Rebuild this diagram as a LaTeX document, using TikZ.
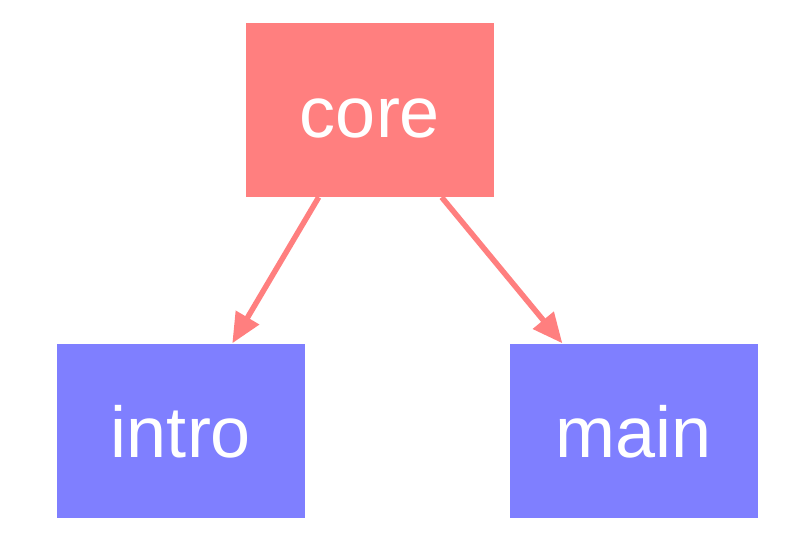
\documentclass[tikz,border=0pt]{standalone}
\usepackage{fontspec}
\setmainfont{Liberation Sans}
\usetikzlibrary{arrows.meta}
\definecolor{redbox}{HTML}{FF7F7F}
\definecolor{bluebox}{HTML}{7F7FFF}
\begin{document}
\begin{tikzpicture}[x=1pt,y=-1pt,
  box/.style={minimum width=248pt,minimum height=174pt,inner sep=0pt,text=white,
    text height=54pt,text depth=0pt,
    font=\fontsize{72}{72}\selectfont},
  link/.style={draw=redbox,line width=5.5pt,-{Triangle[length=30pt,width=26pt]}}]
\useasboundingbox (0,0) rectangle (802,558);
\node[box,fill=redbox] (core) at (370,110) {core};
\node[box,fill=bluebox] (intro) at (181,430.5) {intro};
\node[box,fill=bluebox] (main) at (634,430.5) {main};
\draw[link] (core) -- (intro);
\draw[link] (core) -- (main);
\end{tikzpicture}
\end{document}
